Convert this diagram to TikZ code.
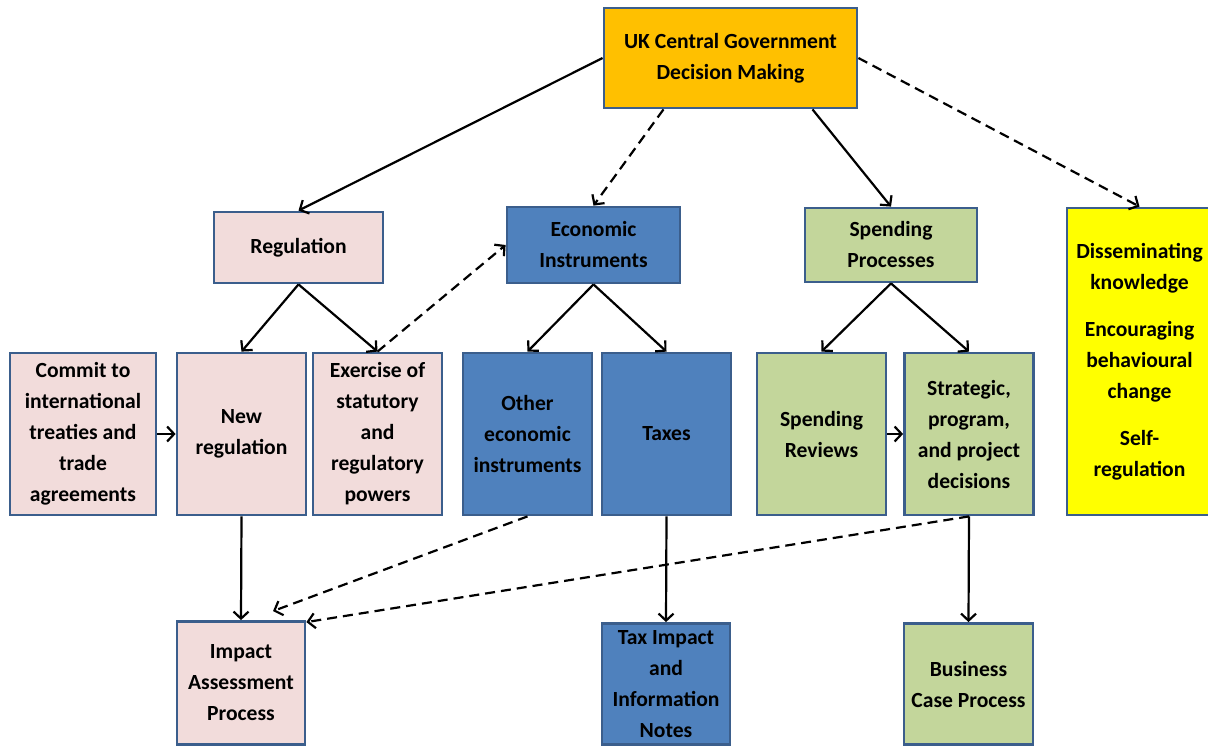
\documentclass[tikz,border=0pt]{standalone}
\usepackage{fontspec}
\setmainfont{Carlito}
\usetikzlibrary{arrows.meta}

\definecolor{edgeblue}{HTML}{3B5E8C}
\definecolor{topfill}{HTML}{FFC000}
\definecolor{pinkfill}{HTML}{F2DCDB}
\definecolor{bluefill}{HTML}{4F81BD}
\definecolor{greenfill}{HTML}{C3D69B}
\definecolor{yellowfill}{HTML}{FFFF00}

\begin{document}
\begin{tikzpicture}[x=1pt, y=-1pt,
  box/.style={draw=edgeblue, line width=2.8pt, align=center, inner sep=0pt,
    font=\bfseries\fontsize{21.6}{31}\selectfont, text=black},
  topbox/.style={box, fill=topfill},
  regbox/.style={box, fill=pinkfill},
  ecobox/.style={box, fill=bluefill},
  spendbox/.style={box, fill=greenfill},
  softbox/.style={box, fill=yellowfill},
  arr/.style={line width=2.2pt, -{Straight Barb[length=7pt,width=15pt,line width=2.2pt]}},
  darr/.style={arr, dash pattern=on 10pt off 6pt}
]
\useasboundingbox (0,0) rectangle (1208,746);

% top level
\node[topbox, minimum width=253pt, minimum height=100pt] (top) at (730.5,58)
  {UK Central Government\\Decision Making};

% second level
\node[regbox, minimum width=169pt, minimum height=71pt] (reg) at (298.5,247.5) {Regulation};
\node[ecobox, minimum width=173pt, minimum height=76pt] (econ) at (593.5,245) {Economic\\Instruments};
\node[spendbox, minimum width=172pt, minimum height=74pt] (sp) at (891,245) {Spending\\Processes};
\node[softbox, minimum width=145pt, minimum height=307pt] (soft) at (1139.5,361.5)
  {Disseminating\\knowledge\\[16pt]Encouraging\\behavioural\\change\\[16pt]Self-\\regulation};

% third level
\node[regbox, minimum width=146pt, minimum height=162pt] (commit) at (83,434)
  {Commit to\\international\\treaties and\\trade\\agreements};
\node[regbox, minimum width=129pt, minimum height=162pt] (newreg) at (241.5,434) {New\\regulation};
\node[regbox, minimum width=129pt, minimum height=162pt] (exer) at (377.5,434)
  {Exercise of\\statutory\\and\\regulatory\\powers};
\node[ecobox, minimum width=129pt, minimum height=162pt] (other) at (527.5,434)
  {Other\\economic\\instruments};
\node[ecobox, minimum width=129pt, minimum height=162pt] (taxes) at (666.5,434) {Taxes};
\node[spendbox, minimum width=129pt, minimum height=162pt] (sr) at (821.5,434) {Spending\\Reviews};
\node[spendbox, minimum width=129pt, minimum height=162pt] (strat) at (969,434)
  {Strategic,\\program,\\and project\\decisions};

% appraisal processes
\node[regbox, minimum width=128pt, minimum height=123pt] (impact) at (241,683)
  {Impact\\Assessment\\Process};
\node[ecobox, minimum width=128pt, minimum height=121pt] (taxnote) at (666,684)
  {Tax Impact\\and\\Information\\Notes};
\node[spendbox, minimum width=129pt, minimum height=121pt] (bcp) at (968.5,684)
  {Business\\Case Process};

% connectors
\draw[arr] (top.west) -- (reg.north);
\draw[darr] ([xshift=-67pt]top.south) -- (econ.north);
\draw[arr] ([xshift=82pt]top.south) -- (sp.north);
\draw[darr] (top.east) -- (soft.north);

\draw[arr] (reg.south) -- (newreg.north);
\draw[arr] (reg.south) -- (exer.north);
\draw[darr] (exer.north) -- (econ.west);

\draw[arr] (econ.south) -- (other.north);
\draw[arr] (econ.south) -- (taxes.north);
\draw[arr] (sp.south) -- (sr.north);
\draw[arr] (sp.south) -- (strat.north);

\draw[arr] (commit.east) -- (newreg.west);
\draw[arr] (sr.east) -- (strat.west);

\draw[arr] (newreg.south) -- (impact.north);
\draw[darr] (other.south) -- ([xshift=32pt,yshift=9pt]impact.north);
\draw[darr] (strat.south) -- ([yshift=-2pt]impact.north east);
\draw[arr] (taxes.south) -- (taxnote.north);
\draw[arr] (strat.south) -- (bcp.north);
\end{tikzpicture}
\end{document}
